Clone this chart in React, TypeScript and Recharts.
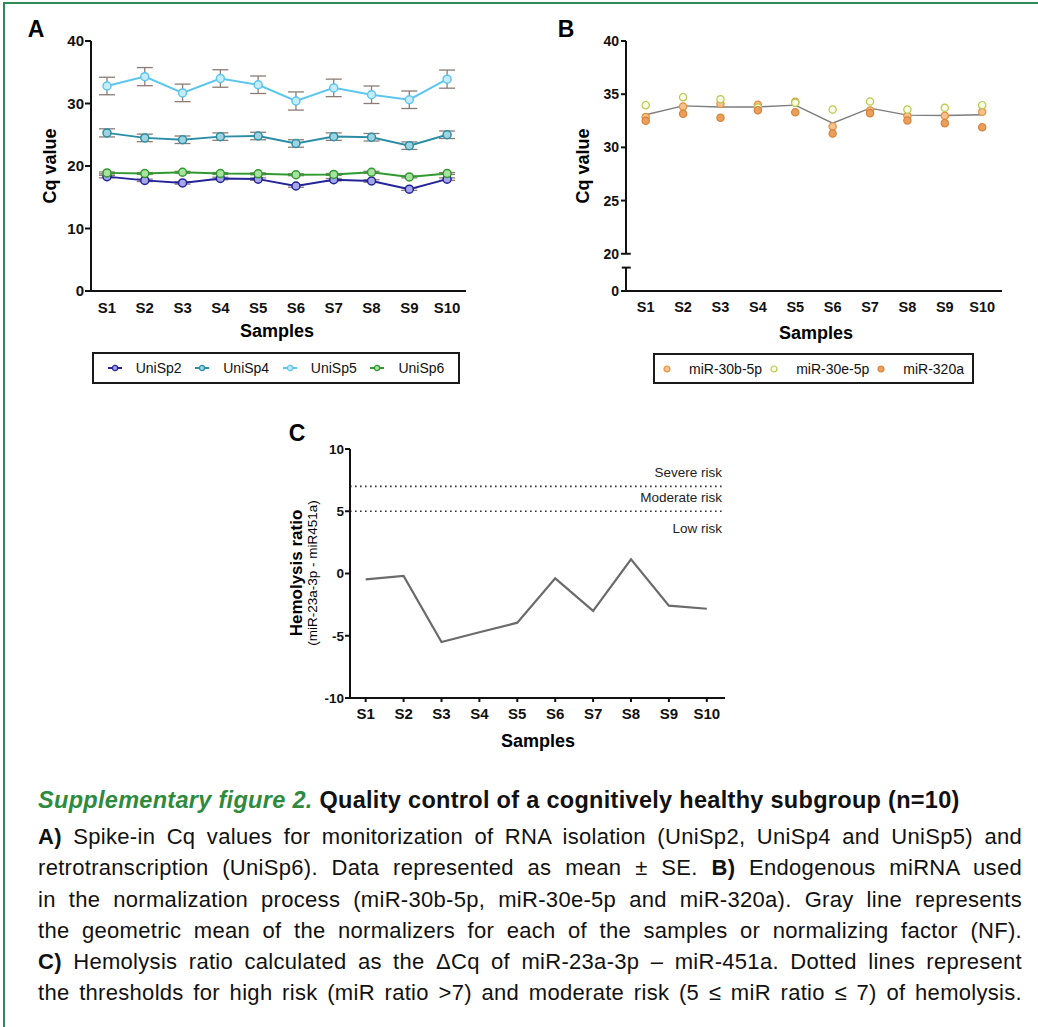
import React from 'react';
import {
  LineChart, Line, XAxis, YAxis, ZAxis, ErrorBar, ComposedChart, Scatter, ReferenceLine, Label,
} from 'recharts';

const categories = ['S1', 'S2', 'S3', 'S4', 'S5', 'S6', 'S7', 'S8', 'S9', 'S10'];

// Panel A: spike-in Cq values (mean ± SE)
const uniSp2 = [18.3, 17.7, 17.3, 18.0, 17.9, 16.8, 17.8, 17.6, 16.3, 17.9];
const uniSp4 = [25.3, 24.5, 24.2, 24.7, 24.8, 23.6, 24.7, 24.6, 23.25, 25.0];
const uniSp5 = [32.8, 34.3, 31.7, 34.0, 33.0, 30.4, 32.5, 31.4, 30.6, 33.9];
const uniSp6 = [18.9, 18.8, 19.0, 18.8, 18.75, 18.6, 18.65, 19.0, 18.25, 18.8];
const seUniSp2 = [0.2, 0.2, 0.2, 0.2, 0.2, 0.2, 0.2, 0.2, 0.2, 0.2];
const seUniSp4 = [0.65, 0.6, 0.6, 0.6, 0.6, 0.6, 0.6, 0.6, 0.6, 0.6];
const seUniSp5 = [1.4, 1.45, 1.4, 1.4, 1.4, 1.45, 1.4, 1.4, 1.4, 1.45];
const seUniSp6 = [0.15, 0.15, 0.15, 0.15, 0.15, 0.15, 0.15, 0.15, 0.15, 0.15];

// Panel B: endogenous normalizers
const mir30b = [32.85, 33.84, 34.1, 34.0, 34.3, 31.97, 33.47, 32.97, 32.97, 33.34];
const mir30e = [33.97, 34.72, 34.53, 33.75, 34.2, 33.56, 34.31, 33.56, 33.72, 33.97];
const mir320a = [32.5, 33.16, 32.78, 33.5, 33.3, 31.3, 33.22, 32.53, 32.28, 31.9];
const normFactor = [33.07, 33.9, 33.8, 33.8, 33.97, 32.28, 33.69, 33.03, 33.0, 33.07];

// Panel C: hemolysis ratio
const hemolysis = [-0.47, -0.2, -5.5, -4.72, -3.95, -0.39, -3.0, 1.14, -2.58, -2.83];

const ticksA = [0, 10, 20, 30, 40];
const ticksB = [20, 25, 30, 35, 40];
const ticksC = [-10, -5, 0, 5, 10];

const FONT = '"Liberation Sans", Arial, Helvetica, sans-serif';

const seriesA = [
  { key: 'uniSp2', err: 'seUniSp2', name: 'UniSp2', stroke: '#23239a', fill: '#a6a6ea' },
  { key: 'uniSp4', err: 'seUniSp4', name: 'UniSp4', stroke: '#2b8ea6', fill: '#9fd3df' },
  { key: 'uniSp5', err: 'seUniSp5', name: 'UniSp5', stroke: '#5cc6ee', fill: '#c6ecfa' },
  { key: 'uniSp6', err: 'seUniSp6', name: 'UniSp6', stroke: '#2f9a2f', fill: '#a9e2a0' },
];

const seriesB = [
  { key: 'mir30b', name: 'miR-30b-5p', stroke: '#e3913f', fill: '#f7c28f' },
  { key: 'mir30e', name: 'miR-30e-5p', stroke: '#b7c84c', fill: '#fafbe6' },
  { key: 'mir320a', name: 'miR-320a', stroke: '#d9833a', fill: '#eb9f5c' },
];

const riskThresholds = [
  { y: 7, above: 'Severe risk', below: '' },
  { y: 5, above: 'Moderate risk', below: 'Low risk' },
];

const rows = categories.map((c, i) => ({
  x: i + 1,
  name: c,
  uniSp2: uniSp2[i], uniSp4: uniSp4[i], uniSp5: uniSp5[i], uniSp6: uniSp6[i],
  seUniSp2: seUniSp2[i], seUniSp4: seUniSp4[i], seUniSp5: seUniSp5[i], seUniSp6: seUniSp6[i],
  mir30b: mir30b[i], mir30e: mir30e[i], mir320a: mir320a[i], nf: normFactor[i],
  hemo: hemolysis[i],
}));

const xTicks = categories.map((_, i) => i + 1);
const fmtX = (v: number) => categories[v - 1] ?? '';

// B axis break: the "0" tick is drawn just below the 20 tick
const B_ZERO_POS = 16.5;
const B_BREAK_TOP = 18.7;

const tickStyle = (size: number) => ({ fontSize: size, fontWeight: 700, fill: '#111', fontFamily: FONT });
const riskLabelStyle = { fontSize: 13.5, fill: '#222', fontFamily: FONT };

function Abs({ x, y, children, style }: any) {
  return (
    <div style={{ position: 'absolute', left: x, top: y, transform: 'translate(-50%,-50%)', whiteSpace: 'nowrap', ...style }}>
      {children}
    </div>
  );
}

function VLabel({ x, y, children, style }: any) {
  return (
    <div style={{ position: 'absolute', left: x, top: y, transform: 'translate(-50%,-50%) rotate(-90deg)', whiteSpace: 'nowrap', textAlign: 'center', ...style }}>
      {children}
    </div>
  );
}

function LegendBox({ left, top, width, height, children }: any) {
  return (
    <div style={{
      position: 'absolute', left, top, width, height, boxSizing: 'border-box', border: '2px solid #1a1a1a',
      display: 'flex', alignItems: 'center', justifyContent: 'space-evenly', fontSize: 14, color: '#111',
    }}>
      {children}
    </div>
  );
}

export default function App() {
  return (
    <div style={{ position: 'absolute', left: 0, top: 0, width: 1038, height: 1027, background: '#fff', fontFamily: FONT, overflow: 'hidden' }}>
      <div style={{ position: 'absolute', left: 3, top: 2, width: 1100, height: 1100, borderTop: '2px solid #2e8b57', borderLeft: '2px solid #2e8b57' }} />

      {/* Panel A */}
      <Abs x={36} y={29} style={{ fontSize: 23, fontWeight: 700 }}>A</Abs>
      <VLabel x={50} y={166} style={{ fontSize: 18, fontWeight: 700 }}>Cq value</VLabel>
      <div style={{ position: 'absolute', left: 0, top: 0 }}>
        <LineChart width={480} height={345} data={rows} margin={{ top: 41, right: 14, bottom: 24, left: 51 }}>
          <XAxis type="number" dataKey="x" domain={[0.577, 10.5]} ticks={xTicks} interval={0} tickFormatter={fmtX}
            tickLine={false} axisLine={{ stroke: '#111', strokeWidth: 2 }} tick={tickStyle(15)} tickMargin={5} />
          <YAxis width={40} domain={[0, 40]} ticks={ticksA} interval={0} tickSize={6} tickMargin={1}
            axisLine={{ stroke: '#111', strokeWidth: 2 }} tickLine={{ stroke: '#111', strokeWidth: 2 }} tick={tickStyle(15)} />
          {seriesA.map((s) => (
            <Line key={s.key} dataKey={s.key} name={s.name} stroke={s.stroke} strokeWidth={2} isAnimationActive={false}
              dot={{ r: 4, fill: s.fill, stroke: s.stroke, strokeWidth: 1.5 }}>
              <ErrorBar dataKey={s.err} width={8} stroke="#8a7c74" strokeWidth={1.3} direction="y" />
            </Line>
          ))}
        </LineChart>
      </div>
      <Abs x={277} y={331} style={{ fontSize: 18, fontWeight: 700 }}>Samples</Abs>
      <LegendBox left={92} top={352} width={368} height={32}>
        {seriesA.map((s) => (
          <div key={s.key} style={{ display: 'flex', alignItems: 'center' }}>
            <svg width={14} height={8} style={{ marginRight: 14 }}>
              <line x1={0} y1={4} x2={14} y2={4} stroke={s.stroke} strokeWidth={2} />
              <circle cx={7} cy={4} r={2.6} fill={s.fill} stroke={s.stroke} strokeWidth={1.2} />
            </svg>
            <span>{s.name}</span>
          </div>
        ))}
      </LegendBox>

      {/* Panel B */}
      <Abs x={566} y={29} style={{ fontSize: 23, fontWeight: 700 }}>B</Abs>
      <VLabel x={583} y={166} style={{ fontSize: 18, fontWeight: 700 }}>Cq value</VLabel>
      <div style={{ position: 'absolute', left: 540, top: 0 }}>
        <ComposedChart width={480} height={345} data={rows} margin={{ top: 41, right: 18, bottom: 24, left: 46 }}>
          <XAxis type="number" dataKey="x" domain={[0.473, 10.53]} ticks={xTicks} interval={0} tickFormatter={fmtX}
            tickLine={false} axisLine={{ stroke: '#111', strokeWidth: 2 }} tick={tickStyle(14.5)} tickMargin={5} />
          <YAxis width={40} domain={[B_ZERO_POS, 40]} ticks={[B_ZERO_POS, ...ticksB]} interval={0} tickSize={5} tickMargin={2}
            tickFormatter={(v: number) => (v === B_ZERO_POS ? '0' : String(v))}
            axisLine={false} tickLine={{ stroke: '#111', strokeWidth: 2 }} tick={tickStyle(14)} />
          <ZAxis range={[42, 42]} />
          <ReferenceLine segment={[{ x: 0.473, y: 20 }, { x: 0.473, y: 40 }]} stroke="#111" strokeWidth={2} ifOverflow="visible" />
          <ReferenceLine segment={[{ x: 0.473, y: 20 }, { x: 0.6, y: 20 }]} stroke="#111" strokeWidth={2} ifOverflow="visible" />
          <ReferenceLine segment={[{ x: 0.473, y: B_ZERO_POS }, { x: 0.473, y: B_BREAK_TOP }]} stroke="#111" strokeWidth={2} ifOverflow="visible" />
          <ReferenceLine segment={[{ x: 0.36, y: B_BREAK_TOP }, { x: 0.6, y: B_BREAK_TOP }]} stroke="#111" strokeWidth={2} ifOverflow="visible" />
          <Line dataKey="nf" stroke="#7c7c7c" strokeWidth={1.4} dot={false} isAnimationActive={false} />
          {seriesB.map((s) => (
            <Scatter key={s.key} dataKey={s.key} name={s.name} fill={s.fill} stroke={s.stroke} strokeWidth={1.2} isAnimationActive={false} />
          ))}
        </ComposedChart>
      </div>
      <Abs x={816} y={333} style={{ fontSize: 18, fontWeight: 700 }}>Samples</Abs>
      <LegendBox left={653} top={353} width={321} height={31}>
        {seriesB.map((s) => (
          <div key={s.key} style={{ display: 'flex', alignItems: 'center' }}>
            <svg width={8} height={8} style={{ marginRight: 18 }}>
              <circle cx={4} cy={4} r={3} fill={s.fill} stroke={s.stroke} strokeWidth={1.2} />
            </svg>
            <span>{s.name}</span>
          </div>
        ))}
      </LegendBox>

      {/* Panel C */}
      <Abs x={297} y={433} style={{ fontSize: 23, fontWeight: 700 }}>C</Abs>
      <VLabel x={305} y={573} style={{ lineHeight: '16px' }}>
        <div style={{ fontSize: 17, fontWeight: 700 }}>Hemolysis ratio</div>
        <div style={{ fontSize: 13.5 }}>(miR-23a-3p - miR451a)</div>
      </VLabel>
      <div style={{ position: 'absolute', left: 270, top: 420 }}>
        <LineChart width={480} height={320} data={rows} margin={{ top: 29, right: 25, bottom: 12, left: 40 }}>
          <XAxis type="number" dataKey="x" domain={[0.586, 10.48]} ticks={xTicks} interval={0} tickFormatter={fmtX}
            tickSize={4} tickLine={{ stroke: '#111', strokeWidth: 2 }} axisLine={{ stroke: '#111', strokeWidth: 2 }} tick={tickStyle(15)} tickMargin={6} />
          <YAxis width={40} domain={[-10, 10]} ticks={ticksC} interval={0} tickSize={5} tickMargin={1}
            axisLine={{ stroke: '#111', strokeWidth: 2 }} tickLine={{ stroke: '#111', strokeWidth: 2 }} tick={tickStyle(13.5)} />
          {riskThresholds.map((t) => (
            <ReferenceLine key={t.y} y={t.y} stroke="#333" strokeWidth={1.6} strokeDasharray="1.6 3.4">
              <Label value={t.above} position="insideBottomRight" offset={9} dx={6} style={riskLabelStyle} />
              {t.below ? <Label value={t.below} position="insideTopRight" offset={12} dx={9} style={riskLabelStyle} /> : null}
            </ReferenceLine>
          ))}
          <Line dataKey="hemo" stroke="#6b6b6b" strokeWidth={2.2} dot={false} isAnimationActive={false} />
        </LineChart>
      </div>
      <Abs x={538} y={741} style={{ fontSize: 18, fontWeight: 700 }}>Samples</Abs>

      {/* Caption */}
      <div style={{ position: 'absolute', left: 38, top: 786, width: 984, fontSize: 23.5, lineHeight: '28px', letterSpacing: 0.3, fontWeight: 700, color: '#111', whiteSpace: 'nowrap' }}>
        <span style={{ color: '#2e8b3e', fontStyle: 'italic' }}>Supplementary figure 2.</span> Quality control of a cognitively healthy subgroup (n=10)
      </div>
      <div style={{ position: 'absolute', left: 38, top: 821, width: 984, fontSize: 22, lineHeight: '31.3px', letterSpacing: 0.3, color: '#111' }}>
        {[
          <><b>A)</b> Spike-in Cq values for monitorization of RNA isolation (UniSp2, UniSp4 and UniSp5) and</>,
          <>retrotranscription (UniSp6). Data represented as mean ± SE. <b>B)</b> Endogenous miRNA used</>,
          <>in the normalization process (miR-30b-5p, miR-30e-5p and miR-320a). Gray line represents</>,
          <>the geometric mean of the normalizers for each of the samples or normalizing factor (NF).</>,
          <><b>C)</b> Hemolysis ratio calculated as the ΔCq of miR-23a-3p – miR-451a. Dotted lines represent</>,
          <>the thresholds for high risk (miR ratio &gt;7) and moderate risk (5 ≤ miR ratio ≤ 7) of hemolysis.</>,
        ].map((line, i) => (
          <div key={i} style={{ textAlign: 'justify', textAlignLast: 'justify', whiteSpace: 'nowrap' }}>{line}</div>
        ))}
      </div>
    </div>
  );
}
